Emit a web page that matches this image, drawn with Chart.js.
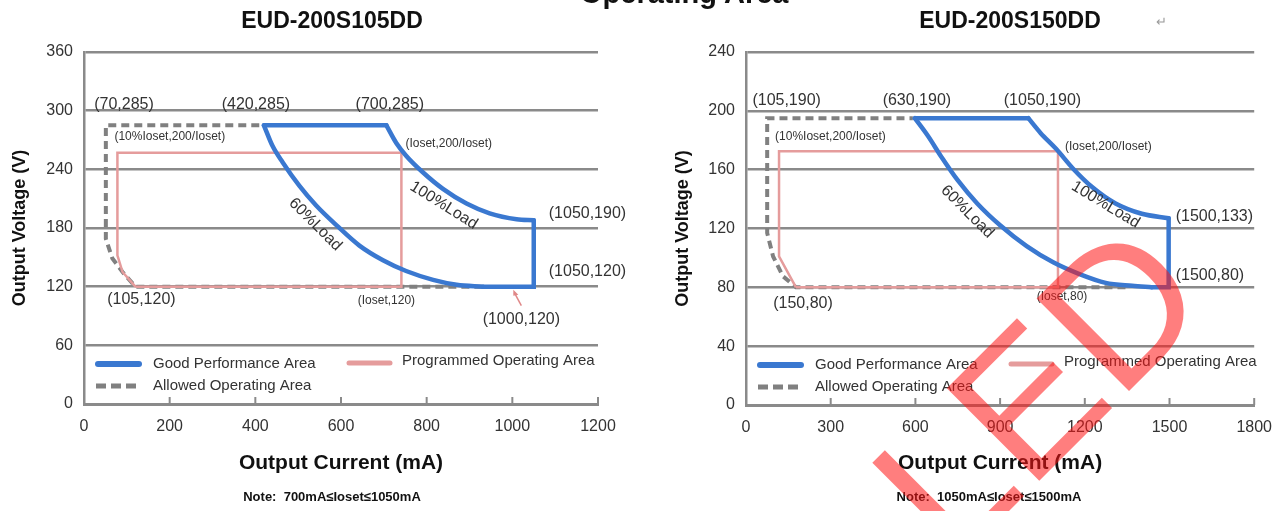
<!DOCTYPE html>
<html>
<head>
<meta charset="utf-8">
<script src="https://cdn.jsdelivr.net/npm/chart.js@4.4.0/dist/chart.umd.min.js"></script>
<style>
  body { margin: 0; background: #fff; width: 1285px; height: 511px; overflow: hidden; position: relative; }
  #c105 { position: absolute; left: 0; top: 0; }
  #c150 { position: absolute; left: 640px; top: 0; }
  #head { position: absolute; z-index: 2; left: 580px; top: -21px; font: bold 29px/29px "Liberation Sans", Arial, sans-serif; color: #111; white-space: nowrap; }
</style>
</head>
<body>
<div id="head">Operating Area</div>
<canvas id="c105" width="640" height="511"></canvas>
<canvas id="c150" width="645" height="511"></canvas>
<script>
var FONT = '"Liberation Sans", Arial, sans-serif';
var seriesNames = ['Good Performance Area', 'Programmed Operating Area', 'Allowed Operating Area'];
var seriesColors = ['#3a78d0', '#e59c9c', '#808080'];
var gridColor = '#8a8a8a';

// EUD-200S105DD
var xTicks105 = [0, 200, 400, 600, 800, 1000, 1200];
var yTicks105 = [0, 60, 120, 180, 240, 300, 360];
// good performance area: 100% load curve, 60% load curve, lower right corner
var load100_105I = [706, 729, 752, 791, 838, 893, 947, 1010, 1050];
var load100_105V = [285, 267, 254, 237, 220, 205, 195, 189, 188];
var load60_105I = [420, 440, 464, 503, 542, 589, 643, 698, 752, 815, 870, 932];
var load60_105V = [285, 264, 247, 223, 203, 183, 162, 147, 136, 127, 122, 120];
var corner105 = [1050, 120];
var prog105I = [120, 741, 741, 78, 78, 90, 120];
var prog105V = [120, 120, 257, 257, 152, 135, 120];
var allow105I = [930, 120, 90, 66, 51, 51, 420];
var allow105V = [120, 120, 135, 149, 169, 285, 285];

// EUD-200S150DD
var xTicks150 = [0, 300, 600, 900, 1200, 1500, 1800];
var yTicks150 = [0, 40, 80, 120, 160, 200, 240];
var load100_150I = [1000, 1043, 1099, 1157, 1227, 1309, 1402, 1497];
var load100_150V = [195, 185, 174, 161, 148, 137, 130, 127];
var load60_150I = [598, 644, 691, 749, 819, 901, 994, 1088, 1181, 1274, 1368, 1437];
var load60_150V = [195, 183, 169, 153, 137, 122, 108, 97, 89, 83, 81, 80];
var corner150 = [1497, 80];
var prog150I = [177, 1105, 1105, 117, 117, 177];
var prog150V = [80, 80, 172.5, 172.5, 101, 80];
var allow150I = [1344, 177, 131, 96, 75, 75, 591];
var allow150V = [80, 80, 87.5, 101, 117, 195, 195];

// text labels: [text, I, V, dx, dy, align, size, rotation]
var notes105 = [
  ['(70,285)', 70, 285, 10, -21, 'center', 16, 0],
  ['(420,285)', 420, 285, -8, -21, 'center', 16, 0],
  ['(700,285)', 700, 285, 6, -21, 'center', 16, 0],
  ['(10%Ioset,200/Ioset)', 78, 257, -3, -16, 'left', 12, 0],
  ['(Ioset,200/Ioset)', 741, 257, 4, -9, 'left', 12, 0],
  ['(1050,190)', 1050, 190, 15, -5, 'left', 16, 0],
  ['(1050,120)', 1050, 120, 15, -15, 'left', 16, 0],
  ['(105,120)', 120, 120, 6, 13, 'center', 16, 0],
  ['(Ioset,120)', 741, 120, -15, 14, 'center', 12, 0],
  ['(1000,120)', 1000, 120, 9, 33, 'center', 16, 0],
  ['60%Load', 540, 200, 0, 16, 'center', 16, 45],
  ['100%Load', 840, 200, 0, -3, 'center', 16, 32]
];
var notes150 = [
  ['(105,190)', 105, 190, 11, -25, 'center', 16, 0],
  ['(630,190)', 630, 190, -7, -25, 'center', 16, 0],
  ['(1050,190)', 1050, 190, 0, -25, 'center', 16, 0],
  ['(10%Ioset,200/Ioset)', 117, 172.5, -4, -14.5, 'left', 12, 0],
  ['(Ioset,200/Ioset)', 1105, 172.5, 7, -5, 'left', 12, 0],
  ['(1500,133)', 1497, 127, 7, -2, 'left', 16, 0],
  ['(1500,80)', 1497, 80, 7, -12, 'left', 16, 0],
  ['(150,80)', 177, 80, 7, 16, 'center', 16, 0],
  ['(Ioset,80)', 1105, 80, 4, 9.5, 'center', 12, 0],
  ['60%Load', 780, 130, 1, -2, 'center', 16, 45],
  ['100%Load', 1270, 130, 1, -9, 'center', 16, 31]
];

Chart.defaults.font.family = FONT;

function txt(ctx, s, x, y, size, opt) {
  opt = opt || {};
  ctx.save();
  ctx.translate(x, y);
  if (opt.rot) ctx.rotate(opt.rot * Math.PI / 180);
  ctx.font = (opt.bold ? 'bold ' : '') + size + 'px ' + FONT;
  ctx.fillStyle = opt.color || '#333';
  ctx.textAlign = opt.align || 'left';
  ctx.textBaseline = opt.base || 'middle';
  ctx.fillText(s, 0, 0);
  ctx.restore();
}

function pts(I, V) {
  return I.map(function(x, i) { return {x: x, y: V[i]}; });
}

function line(data, k, curved) {
  var ds = {
    label: seriesNames[k],
    data: data,
    showLine: true,
    borderColor: seriesColors[k],
    borderWidth: [4.5, 2.5, 4][k],
    borderJoinStyle: 'miter',
    pointRadius: 0,
    tension: 0
  };
  if (k == 0) ds.borderCapStyle = 'round';
  if (curved) { ds.cubicInterpolationMode = 'monotone'; ds.tension = 0.4; }
  if (k == 2) ds.borderDash = [8, 5];
  return ds;
}

function goodSets(o) {
  var n100 = o.l100I.length - 1, n60 = o.l60I.length - 1;
  return [
    line([{x: o.l60I[0], y: o.l60V[0]}, {x: o.l100I[0], y: o.l100V[0]}], 0),
    line(pts(o.l100I, o.l100V), 0, true),
    line([{x: o.l100I[n100], y: o.l100V[n100]}, {x: o.corner[0], y: o.corner[1]}, {x: o.l60I[n60], y: o.l60V[n60]}], 0),
    line(pts(o.l60I, o.l60V), 0, true)
  ];
}

function deco(o) {
  return {
    id: 'deco',
    afterDatasetsDraw: function(chart) {
      var ctx = chart.ctx, xs = chart.scales.x, a = chart.chartArea;
      ctx.save();
      ctx.strokeStyle = gridColor;
      ctx.lineWidth = 2;
      o.xTicks.slice(1).forEach(function(v) {
        var px = xs.getPixelForValue(v);
        ctx.beginPath();
        ctx.moveTo(px, a.bottom);
        ctx.lineTo(px, a.bottom - 7);
        ctx.stroke();
      });
      ctx.restore();
    },
    afterDraw: function(chart) {
      var ctx = chart.ctx, xs = chart.scales.x, ys = chart.scales.y, a = chart.chartArea;

      o.notes.forEach(function(n) {
        txt(ctx, n[0], xs.getPixelForValue(n[1]) + n[3], ys.getPixelForValue(n[2]) + n[4], n[6],
          {align: n[5], rot: n[7], color: '#333'});
      });

      // legend
      var lx = a.left, r1 = a.bottom - 40, r2 = a.bottom - 18;
      ctx.save();
      ctx.lineCap = 'round';
      ctx.lineWidth = 6;
      ctx.strokeStyle = seriesColors[0];
      ctx.beginPath(); ctx.moveTo(lx + 14, r1); ctx.lineTo(lx + 55, r1); ctx.stroke();
      ctx.lineWidth = 5;
      ctx.strokeStyle = seriesColors[1];
      ctx.beginPath(); ctx.moveTo(lx + 265, r1 - 1); ctx.lineTo(lx + 306, r1 - 1); ctx.stroke();
      ctx.lineCap = 'butt';
      ctx.lineWidth = 5;
      ctx.strokeStyle = seriesColors[2];
      ctx.setLineDash([10, 5]);
      ctx.beginPath(); ctx.moveTo(lx + 12, r2); ctx.lineTo(lx + 57, r2); ctx.stroke();
      ctx.restore();
      txt(ctx, seriesNames[0], lx + 69, r1, 15);
      txt(ctx, seriesNames[1], lx + 318, r1 - 3, 15);
      txt(ctx, seriesNames[2], lx + 69, r2, 15);

      txt(ctx, o.title, o.titleX, 22, 23, {bold: true, align: 'center', color: '#111'});
      txt(ctx, o.note, o.noteX, 497, 13, {bold: true, align: 'center', color: '#111'});
      if (o.extra) o.extra(ctx, xs, ys);
    }
  };
}

function buildChart(id, o) {
  var sets = goodSets(o).concat([
    line(pts(o.progI, o.progV), 1),
    line(pts(o.allowI, o.allowV), 2)
  ]);
  return new Chart(document.getElementById(id), {
    type: 'scatter',
    data: { datasets: sets },
    options: {
      responsive: false,
      animation: false,
      events: [],
      layout: { padding: { left: o.padLeft, right: o.padRight, top: 52, bottom: 0 } },
      plugins: { legend: { display: false }, tooltip: { enabled: false } },
      scales: {
        x: {
          type: 'linear',
          min: o.xTicks[0],
          max: o.xTicks[o.xTicks.length - 1],
          afterBuildTicks: function(s) { s.ticks = o.xTicks.map(function(v) { return {value: v}; }); },
          afterFit: function(s) { s.height = o.xAxisH; },
          grid: { display: false, drawTicks: false },
          border: { color: gridColor, width: 3 },
          ticks: { color: '#333', font: { size: 16 }, padding: 13, maxRotation: 0,
                   callback: function(v) { return String(v); } },
          title: { display: true, text: 'Output Current (mA)', color: '#111',
                   font: { size: 21, weight: 'bold' }, padding: { top: 0, bottom: 35 } }
        },
        y: {
          type: 'linear',
          min: o.yTicks[0],
          max: o.yTicks[o.yTicks.length - 1],
          afterBuildTicks: function(s) { s.ticks = o.yTicks.map(function(v) { return {value: v}; }); },
          afterFit: function(s) { s.width = o.yAxisW; },
          grid: { color: gridColor, lineWidth: 2.5, drawTicks: false },
          border: { color: gridColor, width: 2.5 },
          ticks: { color: '#333', font: { size: 16 }, padding: 11,
                   callback: function(v) { return String(v); } },
          title: { display: true, text: 'Output Voltage (V)', color: '#111',
                   font: { size: 18, weight: 'bold' }, padding: { top: 9, bottom: 0 } }
        }
      }
    },
    plugins: [deco(o)]
  });
}

buildChart('c105', {
  l100I: load100_105I, l100V: load100_105V, l60I: load60_105I, l60V: load60_105V, corner: corner105,
  progI: prog105I, progV: prog105V, allowI: allow105I, allowV: allow105V,
  xTicks: xTicks105, yTicks: yTicks105, notes: notes105,
  padLeft: 0, padRight: 42, yAxisW: 84, xAxisH: 107,
  title: 'EUD-200S105DD', titleX: 332,
  note: 'Note:  700mA\u2264Ioset\u22641050mA', noteX: 332,
  extra: function(ctx, xs, ys) {
    // little arrow pointing at (1000,120)
    var px = xs.getPixelForValue(1000), py = ys.getPixelForValue(120);
    ctx.save();
    ctx.strokeStyle = '#e08888';
    ctx.fillStyle = '#e08888';
    ctx.lineWidth = 1.5;
    ctx.beginPath(); ctx.moveTo(px + 9, py + 19); ctx.lineTo(px + 2, py + 6); ctx.stroke();
    ctx.beginPath(); ctx.moveTo(px + 1, py + 3); ctx.lineTo(px + 6, py + 8); ctx.lineTo(px + 1, py + 9); ctx.closePath(); ctx.fill();
    ctx.restore();
  }
});

buildChart('c150', {
  l100I: load100_150I, l100V: load100_150V, l60I: load60_150I, l60V: load60_150V, corner: corner150,
  progI: prog150I, progV: prog150V, allowI: allow150I, allowV: allow150V,
  xTicks: xTicks150, yTicks: yTicks150, notes: notes150,
  padLeft: 23, padRight: 24, yAxisW: 83, xAxisH: 106,
  title: 'EUD-200S150DD', titleX: 370,
  note: 'Note:  1050mA\u2264Ioset\u22641500mA', noteX: 349,
  extra: function(ctx) {
    txt(ctx, '\u21b5', 521, 22, 13, {color: '#999', align: 'center'});
    // red stamp over the right chart
    ctx.save();
    ctx.translate(575, 305);
    ctx.rotate(-45 * Math.PI / 180);
    ctx.font = '190px ' + FONT;
    ctx.fillStyle = 'rgba(255,20,20,0.55)';
    ctx.textAlign = 'right';
    ctx.textBaseline = 'alphabetic';
    ctx.fillText('CANCELLED', 0, 0);
    ctx.restore();
  }
});
</script>
</body>
</html>
